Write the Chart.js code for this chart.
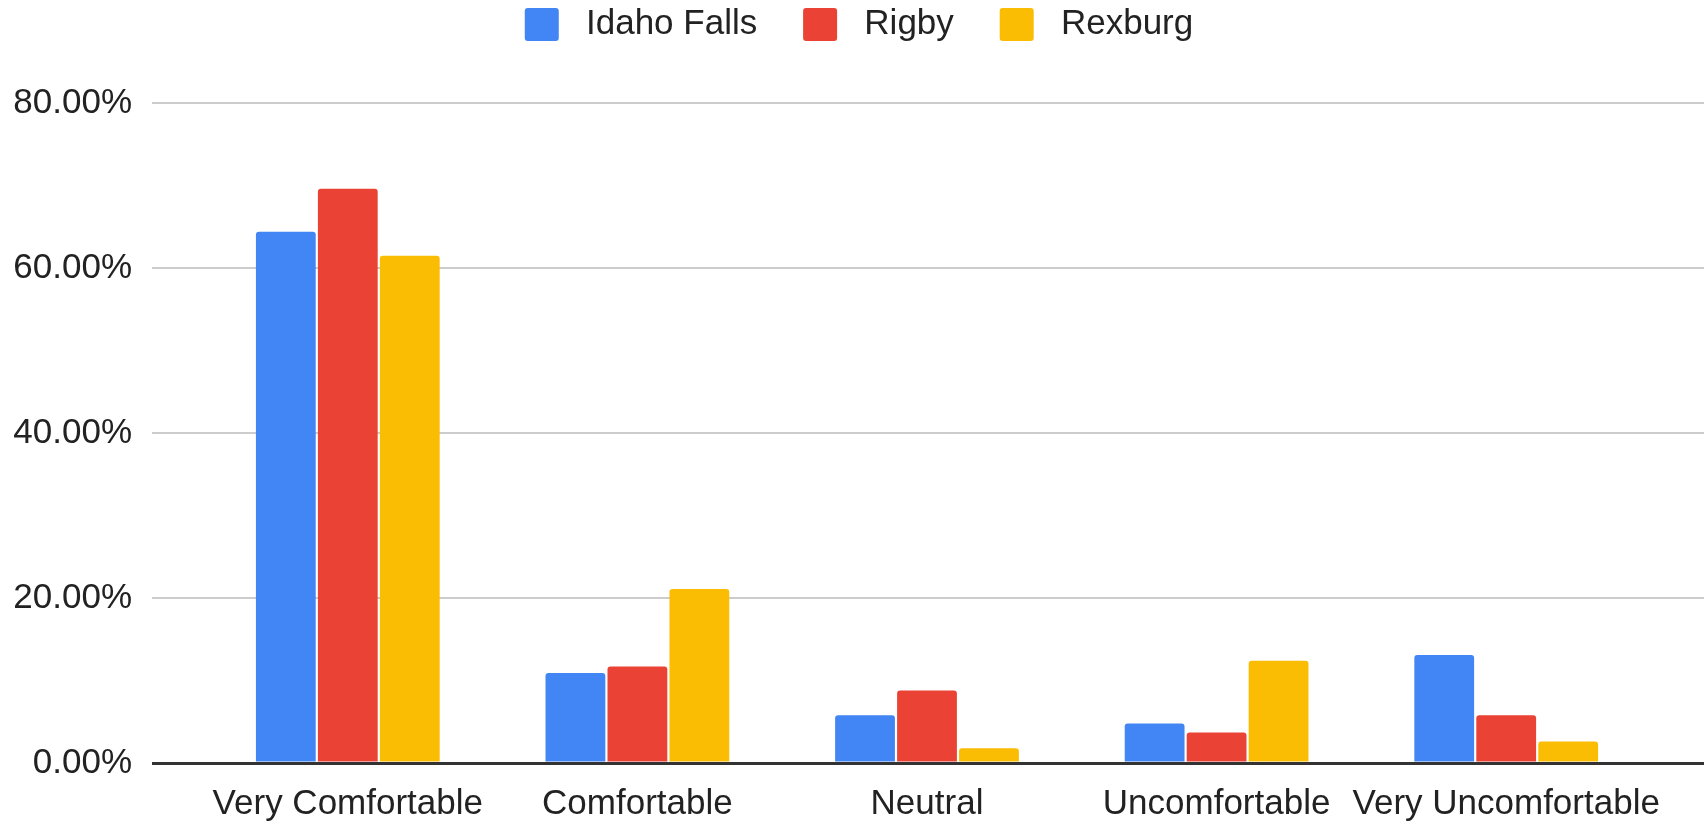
<!DOCTYPE html>
<html>
<head>
<meta charset="utf-8">
<script src="https://cdn.jsdelivr.net/npm/chart.js@4.4.0/dist/chart.umd.min.js"></script>
<style>
html,body{margin:0;padding:0;background:#fff;overflow:hidden}
#wrap{position:relative;width:1704px;height:821px}
</style>
</head>
<body>
<div id="wrap"><canvas id="c"></canvas></div>
<script>
const categories = ['Very Comfortable', 'Comfortable', 'Neutral', 'Uncomfortable', 'Very Uncomfortable'];
const seriesNames = ['Idaho Falls', 'Rigby', 'Rexburg'];
const idahoFalls = [64.4, 10.9, 5.8, 4.8, 13.1];
const rigby = [69.6, 11.7, 8.8, 3.7, 5.8];
const rexburg = [61.5, 21.1, 1.8, 12.4, 2.6];
const yTicks = [0, 20, 40, 60, 80];
const seriesColors = ['#4285F4', '#EA4335', '#FBBC04'];

const FONT = "'Liberation Sans', Arial, sans-serif";
const TEXT = '#222222';
const gridColor = (ctx) => (ctx.tick && ctx.tick.value === 0) ? '#333333' : '#cccccc';
const gridWidth = (ctx) => (ctx.tick && ctx.tick.value === 0) ? 3 : 2;

const seriesValues = [idahoFalls, rigby, rexburg];
const datasets = seriesNames.map((name, i) => ({
  label: name,
  data: seriesValues[i],
  backgroundColor: seriesColors[i],
  borderWidth: 0,
  borderRadius: 3,
  borderSkipped: 'start',
  categoryPercentage: 0.642,
  barPercentage: 0.965
}));

new Chart(document.getElementById('c'), {
  type: 'bar',
  data: { labels: categories, datasets },
  options: {
    responsive: true,
    maintainAspectRatio: false,
    animation: false,
    layout: { padding: { left: 14, right: 0, top: 0, bottom: 0 } },
    plugins: {
      tooltip: { enabled: false },
      title: { display: true, text: '', position: 'top', weight: 500, padding: 0, font: { size: 51, lineHeight: 1 } },
      legend: {
        position: 'top',
        align: 'center',
        labels: {
          boxWidth: 34,
          boxHeight: 33,
          padding: 7,
          color: TEXT,
          useBorderRadius: true,
          borderRadius: 3,
          font: { family: FONT, size: 35 },
          generateLabels: (chart) => {
            const items = Chart.defaults.plugins.legend.labels.generateLabels(chart);
            return items.map((it, i) => Object.assign(it, {
              text: ' ' + it.text + (i < items.length - 1 ? '    ' : ''),
              lineWidth: 0
            }));
          }
        }
      }
    },
    scales: {
      x: {
        z: 1,
        grid: { display: false, drawTicks: false },
        border: { display: true, color: '#333333', width: 3 },
        afterFit: (scale) => { scale.height = 58; },
        ticks: {
          color: TEXT,
          font: { family: FONT, size: 35 },
          padding: 20,
          maxRotation: 0,
          minRotation: 0,
          autoSkip: false
        }
      },
      y: {
        position: 'left',
        min: yTicks[0],
        max: yTicks[yTicks.length - 1],
        afterFit: (scale) => { scale.width = 189; },
        ticks: {
          stepSize: yTicks[1] - yTicks[0],
          color: TEXT,
          font: { family: FONT, size: 35 },
          padding: 20,
          callback: (v) => Number(v).toFixed(2) + '%'
        },
        grid: { color: gridColor, tickColor: gridColor, lineWidth: gridWidth, drawTicks: true, tickLength: 51 },
        border: { display: false }
      },
      y2: {
        position: 'right',
        min: yTicks[0],
        max: yTicks[yTicks.length - 1],
        ticks: { display: false, stepSize: yTicks[1] - yTicks[0] },
        grid: { drawOnChartArea: false, color: gridColor, tickColor: gridColor, lineWidth: gridWidth, drawTicks: true, tickLength: 53 },
        border: { display: false }
      }
    }
  }
});
</script>
</body>
</html>
